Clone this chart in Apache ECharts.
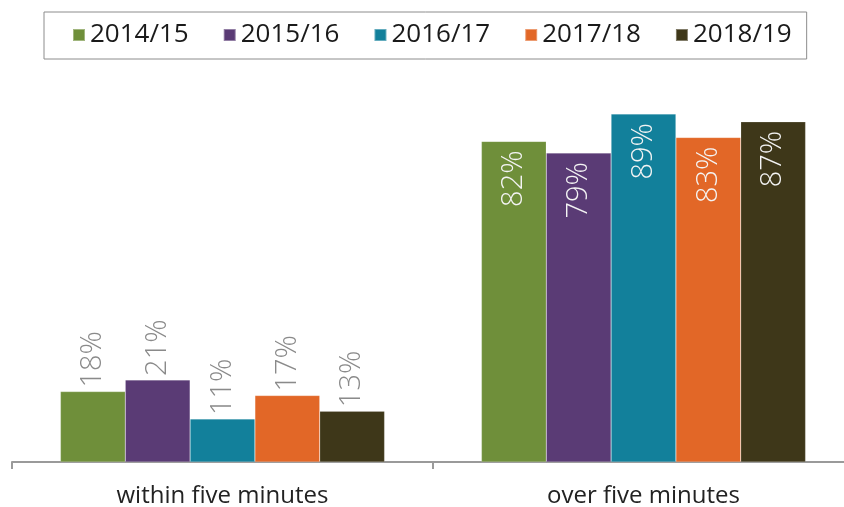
<!DOCTYPE html>
<html>
<head>
<meta charset="utf-8">
<script src="https://cdn.jsdelivr.net/npm/echarts@6/dist/echarts.min.js"></script>
<style>
  html, body { margin: 0; padding: 0; background: #fff; }
  #chart { width: 844px; height: 507px; }
</style>
</head>
<body>
<div id="chart"></div>
<script>
// data
const categories = ['within five minutes', 'over five minutes']
const years = ['2014/15', '2015/16', '2016/17', '2017/18', '2018/19']
const v2014 = [18, 82]
const v2015 = [21, 79]
const v2016 = [11, 89]
const v2017 = [17, 83]
const v2018 = [13, 87]
const values = [v2014, v2015, v2016, v2017, v2018]
const colors = ['#6f8f3a', '#5a3b75', '#12809b', '#e26727', '#3e3719']

const fontFamily = '"Open Sans", "Noto Sans", sans-serif'

const chart = echarts.init(document.getElementById('chart'))

// small bars get the label above (grey), tall bars get it inside the top (white)
function barData (arr) {
  return arr.map(v => {
    if (v < 50) {
      return {
        value: v,
        label: { position: 'top', align: 'left', color: '#8a8a8a', distance: 4 }
      }
    }
    return {
      value: v,
      label: { position: 'insideTop', align: 'right', color: '#f4f4f4', distance: 9 }
    }
  })
}

chart.setOption({
  animation: false,
  color: colors,
  textStyle: { fontFamily },
  legend: {
    left: 44,
    top: 12,
    width: 820,
    itemWidth: 12,
    itemHeight: 12,
    itemGap: 34,
    itemTextGap: 6,
    icon: 'rect',
    padding: [10, 15, 11, 28],
    borderColor: '#8c8c8c',
    borderWidth: 1,
    textStyle: { fontSize: 26, color: '#1a1a1a', fontFamily }
  },
  grid: {
    left: 12,
    width: 842,
    top: 71,
    bottom: 45,
    outerBoundsMode: 'none'
  },
  xAxis: {
    type: 'category',
    data: categories,
    axisLine: { lineStyle: { color: '#9a9a9a', width: 2 } },
    axisTick: { show: true, length: 7, lineStyle: { color: '#9a9a9a', width: 2 } },
    axisLabel: { fontSize: 24, color: '#222', margin: 22, fontFamily }
  },
  yAxis: {
    type: 'value',
    min: 0,
    max: 100,
    show: false,
    splitLine: { show: false }
  },
  series: years.map((name, i) => ({
    name,
    type: 'bar',
    barGap: '0%',
    barCategoryGap: '23%',
    data: barData(values[i]),
    itemStyle: { borderColor: 'rgba(255,255,255,0.35)', borderWidth: 0.5 },
    label: {
      show: true,
      rotate: 90,
      verticalAlign: 'middle',
      fontSize: 29,
      fontWeight: 300,
      fontFamily,
      formatter: '{c}%'
    }
  }))
})
</script>
</body>
</html>
